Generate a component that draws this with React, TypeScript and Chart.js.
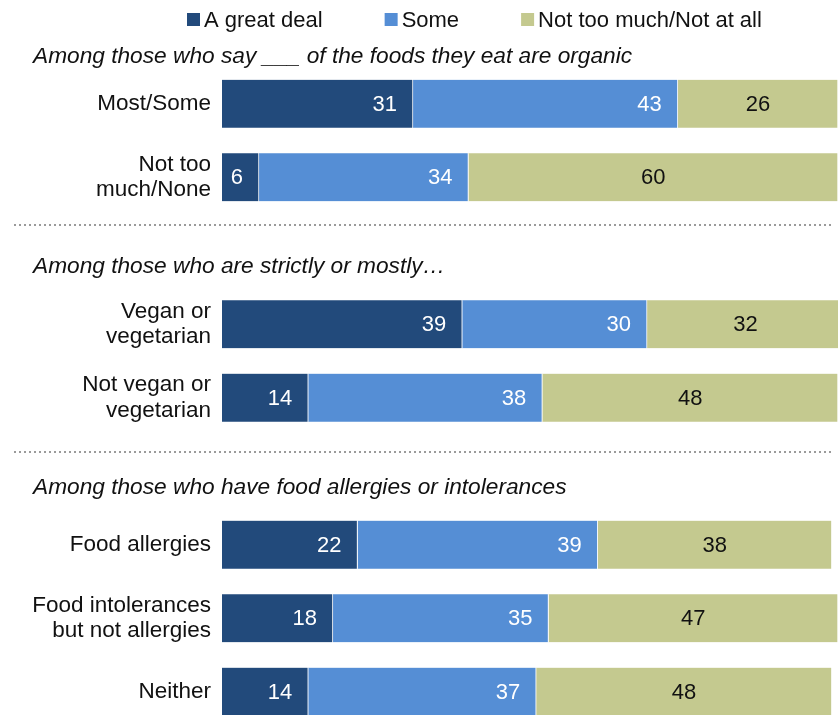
import { useEffect, useRef } from "react";
import { Chart, registerables } from "chart.js";

Chart.register(...registerables);

const categories: (string | string[])[] = [
  "Most/Some",
  ["Not too", "much/None"],
  "",
  ["Vegan or", "vegetarian"],
  ["Not vegan or", "vegetarian"],
  "",
  "Food allergies",
  ["Food intolerances", "but not allergies"],
  "Neither",
];
const greatDeal = [31, 6, null, 39, 14, null, 22, 18, 14];
const some = [43, 34, null, 30, 38, null, 39, 35, 37];
const notMuch = [26, 60, null, 32, 48, null, 38, 47, 48];
const seriesLabels = ["A great deal", "Some", "Not too much/Not at all"];
const seriesColors = ["#224a7b", "#558ed5", "#c4c98f"];
const labelColors = ["#ffffff", "#ffffff", "#111111"];

const groupHeaders = [
  "Among those who say ___ of the foods they eat are organic",
  "Among those who are strictly or mostly…",
  "Among those who have food allergies or intolerances",
];
const groupFirstRow = [0, 3, 6];
const groupLastRow = [1, 4, 8];

const FONT = "'Liberation Sans', Arial, sans-serif";

const headerOffsets = [47, 58, 57];
const dividerOffsets = [48, 54];

const annotationsPlugin = {
  id: "annotations",
  afterDraw(chart: any) {
    const ctx = chart.ctx;
    const y = chart.scales.y;
    ctx.save();
    // legend
    ctx.font = `22px ${FONT}`;
    ctx.textBaseline = "middle";
    ctx.textAlign = "left";
    let lx = 187;
    const ly = 19.5;
    chart.data.datasets.forEach((ds: any) => {
      ctx.fillStyle = ds.backgroundColor;
      ctx.fillRect(lx, ly - 6.5, 13, 13);
      ctx.fillStyle = "#111";
      ctx.fillText(ds.label, lx + 17, ly + 1);
      lx += 17 + ctx.measureText(ds.label).width + 62;
    });
    // headers
    ctx.font = `italic 22.7px ${FONT}`;
    groupHeaders.forEach((h, g) => {
      const py = y.getPixelForValue(groupFirstRow[g]) - headerOffsets[g];
      ctx.fillStyle = "#111";
      ctx.fillText(h, 33, py);
    });
    // dividers
    ctx.strokeStyle = "#9a9a9a";
    ctx.lineWidth = 2;
    ctx.setLineDash([2, 3]);
    dividerOffsets.forEach((off, g) => {
      const py = Math.round(y.getPixelForValue(groupLastRow[g]) + off);
      ctx.beginPath();
      ctx.moveTo(14, py);
      ctx.lineTo(834, py);
      ctx.stroke();
    });
    ctx.restore();
  },
  afterDatasetsDraw(chart: any) {
    const ctx = chart.ctx;
    ctx.save();
    ctx.font = `22px ${FONT}`;
    ctx.textBaseline = "middle";
    chart.data.datasets.forEach((ds: any, di: number) => {
      const meta = chart.getDatasetMeta(di);
      meta.data.forEach((el: any, i: number) => {
        const v = ds.data[i];
        if (v == null) return;
        ctx.fillStyle = labelColors[di];
        const txt = String(v);
        if (di < 2) {
          ctx.textAlign = "right";
          ctx.fillText(txt, el.x - 16, el.y + 1);
        } else {
          ctx.textAlign = "center";
          ctx.fillText(txt, (el.x + el.base) / 2, el.y + 1);
        }
      });
    });
    ctx.restore();
  },
};

export default function App() {
  const ref = useRef<HTMLCanvasElement | null>(null);
  useEffect(() => {
    if (!ref.current) return;
    const chart = new Chart(ref.current, {
      type: "bar",
      data: {
        labels: categories,
        datasets: [greatDeal, some, notMuch].map((d, i) => ({
          label: seriesLabels[i],
          data: d,
          backgroundColor: seriesColors[i],
          borderColor: "#ffffff",
          borderWidth: { top: 0, right: 1, bottom: 0, left: 0 },
          borderSkipped: false,
          barThickness: 48,
        })),
      },
      options: {
        animation: false,
        responsive: false,
        devicePixelRatio: 1,
        indexAxis: "y",
        layout: { padding: { top: 67, left: 0, right: 0, bottom: 0 } },
        plugins: {
          legend: { display: false },
          tooltip: { enabled: false },
        },
        scales: {
          x: { stacked: true, min: 0, max: 100, display: false },
          y: {
            stacked: true,
            grid: { display: false, drawTicks: false },
            border: { display: false },
            ticks: {
              padding: 11,
              color: "#111",
              autoSkip: false,
              font: { family: FONT, size: 22.5, lineHeight: 1.12 },
            },
            afterFit: (s: any) => {
              s.width = 222;
            },
          },
        },
      } as any,
      plugins: [annotationsPlugin],
    });
    return () => chart.destroy();
  }, []);
  return (
    <div
      style={{
        position: "absolute",
        left: 0,
        top: 0,
        width: 838,
        height: 715,
        overflow: "hidden",
        background: "#fff",
      }}
    >
      <canvas ref={ref} width={838} height={752} style={{ display: "block" }} />
    </div>
  );
}
